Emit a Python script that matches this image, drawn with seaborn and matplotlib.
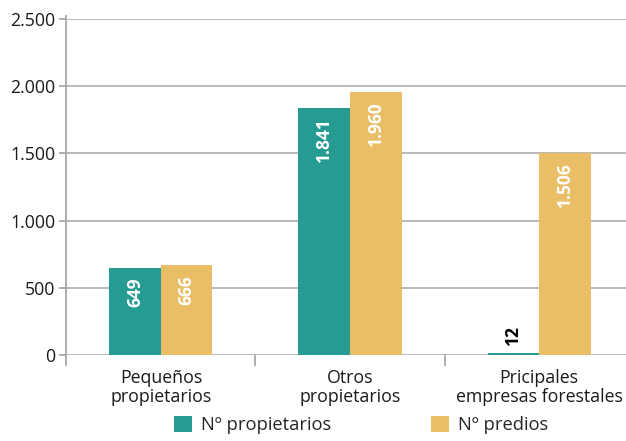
import pandas as pd
import matplotlib
matplotlib.use('Agg')
import matplotlib.pyplot as plt
import matplotlib.ticker as mticker
from matplotlib.patches import Patch
import seaborn as sns

# Datos
categorias = ['Pequeños\npropietarios', 'Otros\npropietarios', 'Pricipales\nempresas forestales']
series = ['Nº propietarios', 'Nº predios']
propietarios = [649, 1841, 12]
predios = [666, 1960, 1506]
colores = ['#269b91', '#e9be66']

df = pd.DataFrame({
    'categoria': categorias * 2,
    'serie': [series[0]] * 3 + [series[1]] * 3,
    'valor': propietarios + predios,
})


def fmt_miles(v, pos=None):
    return f'{int(v):,}'.replace(',', '.')


sns.set_style('white')
plt.rcParams['font.family'] = ['Open Sans', 'DejaVu Sans']

fig = plt.figure(figsize=(6.26, 4.41), dpi=100)
ax = fig.add_axes([0.1062, 0.195, 0.9058, 0.762])

sns.barplot(data=df, x='categoria', y='valor', hue='serie', palette=colores,
            width=0.545, saturation=1, linewidth=0, ax=ax, legend=False, zorder=3)

ax.set_ylim(0, 2500)
ax.set_xlim(-0.5, 2.5)
ax.set_yticks([0, 500, 1000, 1500, 2000, 2500])
ax.yaxis.set_major_formatter(mticker.FuncFormatter(fmt_miles))
ax.grid(axis='y', color='#b3b3b3', linewidth=1.3, zorder=0)
ax.set_axisbelow(True)

for s in ['top', 'right', 'bottom']:
    ax.spines[s].set_visible(False)
ax.spines['left'].set_color('#a8a8a8')
ax.spines['left'].set_linewidth(1.3)
ax.spines['left'].set_bounds(-75, 2525)

ax.tick_params(axis='y', length=5, width=1.3, color='#a8a8a8', labelsize=12.8,
               labelcolor='#1a1a1a', pad=3, left=True)
ax.set_xticks([0, 1, 2])
ax.set_xticklabels(categorias, fontsize=12.8, color='#1a1a1a', linespacing=1.05)
ax.tick_params(axis='x', length=0, pad=10)
ax.set_xticks([0.5, 1.5], minor=True)
ax.tick_params(axis='x', which='minor', length=8, width=1.3, color='#a8a8a8', bottom=True)
ax.set_xlabel('')
ax.set_ylabel('')

# Etiquetas de valor
valores = [propietarios, predios]
for cont, vals in zip(ax.containers, valores):
    for bar, v in zip(cont, vals):
        xc = bar.get_x() + bar.get_width() / 2
        if v > 300:
            ax.annotate(fmt_miles(v), (xc, v), xytext=(0, -7), textcoords='offset points',
                        rotation=90, ha='center', va='top', color='white',
                        fontsize=12.5, fontweight='bold', zorder=4)
        else:
            ax.annotate(fmt_miles(v), (xc, v), xytext=(0, 6), textcoords='offset points',
                        rotation=90, ha='center', va='bottom', color='black',
                        fontsize=12.5, fontweight='bold', zorder=4)

handles = [Patch(facecolor=c, edgecolor='none') for c in colores]
fig.legend(handles, series, loc='lower center', bbox_to_anchor=(0.577, -0.022), ncol=2,
           frameon=False, fontsize=13.2, handlelength=1.0, handleheight=1.0,
           columnspacing=5.4, handletextpad=0.5)

fig.savefig('out.png', dpi=100)
